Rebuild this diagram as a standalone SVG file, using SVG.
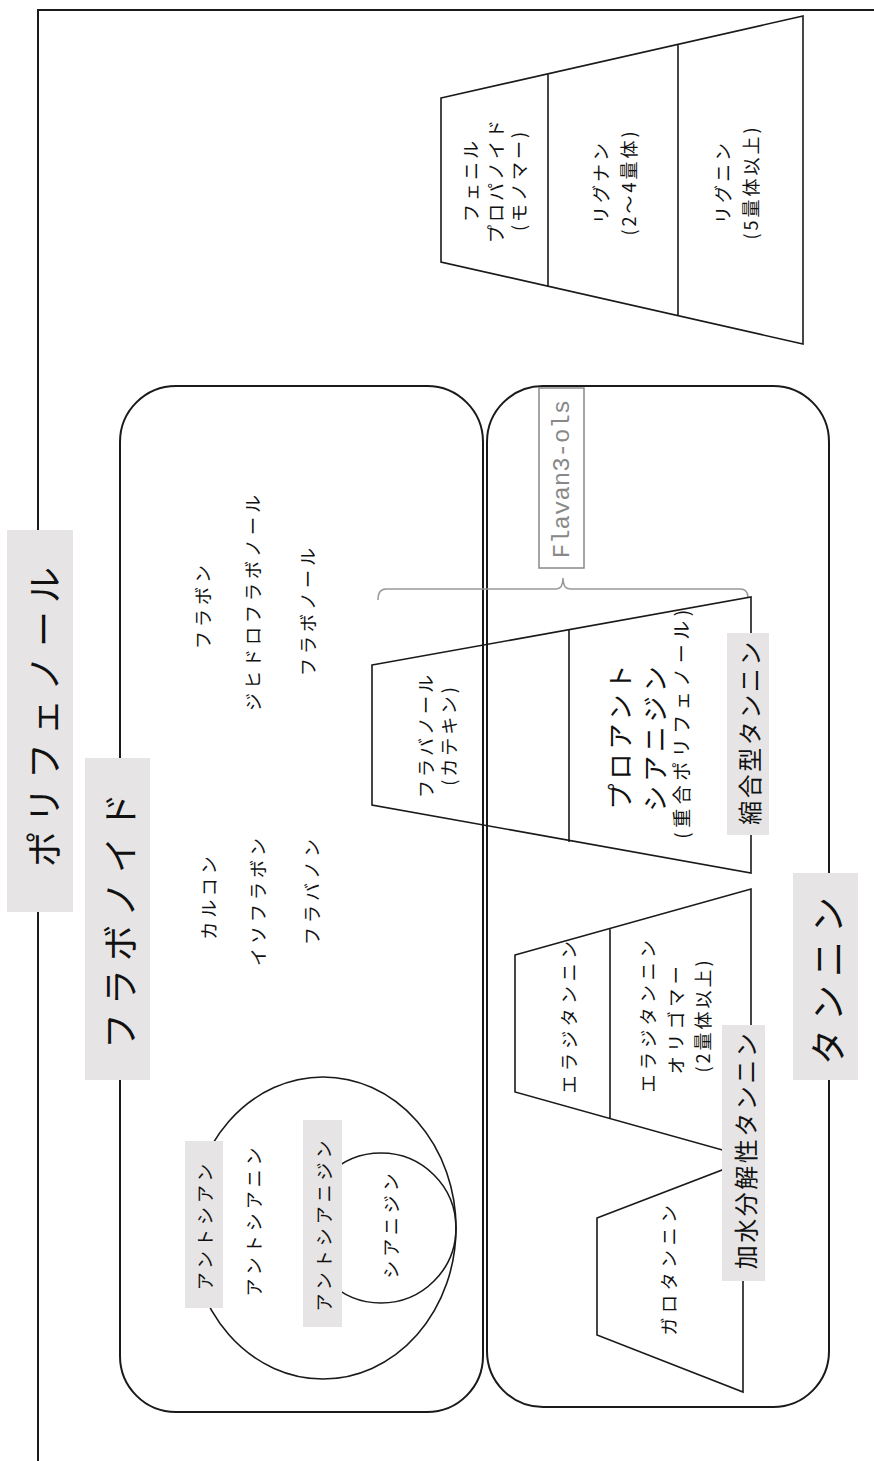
<svg xmlns="http://www.w3.org/2000/svg" width="874" height="1461" viewBox="0 0 874 1461">
<style>
.ln{fill:none;stroke:#1a1a1a;stroke-width:2}
.sh{fill:none;stroke:#1a1a1a;stroke-width:1.6}
.lb{fill:#e6e4e4;stroke:none}
.t{font-family:"Noto Sans CJK JP","Noto Sans",sans-serif;fill:#111;text-anchor:middle;dominant-baseline:central}
.s{font-size:18px;letter-spacing:4px}
.m{font-size:18px;letter-spacing:3px}
.big{font-size:36px;letter-spacing:8px}
.mid{font-size:24px;letter-spacing:2.5px}
.pa{font-size:26px;letter-spacing:4px}
.fl{font-family:"Liberation Mono",monospace;font-size:24px;fill:#888;text-anchor:middle;dominant-baseline:central}
</style>
<rect width="874" height="1461" fill="#fff"/>
<g id="frame">
<path class="ln" d="M38,1461 L38,10 L874,10"/>
</g>
<g id="flavonoid-box">
<rect class="ln" x="120" y="386" width="363" height="1026" rx="56" ry="56"/>
</g>
<g id="tannin-box">
<rect class="ln" x="487" y="386" width="342" height="1021" rx="56" ry="56"/>
</g>
<g id="phenylpropanoid-trapezoid">
<path class="sh" d="M441,98 L803,16 L803,344 L441,262 Z M548,73 L548,287 M678,44 L678,316"/>
<text class="t m" transform="rotate(-90 470 180)" x="470" y="180">フェニル</text>
<text class="t m" transform="rotate(-90 495 180)" x="495" y="180">プロパノイド</text>
<text class="t m" transform="rotate(-90 518 180)" x="518" y="180">(モノマー)</text>
<text class="t m" transform="rotate(-90 600 182)" x="600" y="182">リグナン</text>
<text class="t m" transform="rotate(-90 628 182)" x="628" y="182">(2～4量体)</text>
<text class="t m" transform="rotate(-90 722 182)" x="722" y="182">リグニン</text>
<text class="t m" transform="rotate(-90 750 182)" x="750" y="182">(5量体以上)</text>
</g>
<g id="flavonoid-list">
<text class="t s" transform="rotate(-90 202 605)" x="202" y="605">フラボン</text>
<text class="t s" transform="rotate(-90 252 601)" x="252" y="601">ジヒドロフラボノール</text>
<text class="t s" transform="rotate(-90 307 610)" x="307" y="610">フラボノール</text>
<text class="t s" transform="rotate(-90 208 896)" x="208" y="896">カルコン</text>
<text class="t s" transform="rotate(-90 257 900)" x="257" y="900">イソフラボン</text>
<text class="t s" transform="rotate(-90 311 890)" x="311" y="890">フラバノン</text>
</g>
<g id="anthocyanin-circles">
<ellipse class="sh" cx="323" cy="1228" rx="133" ry="151"/>
<circle class="sh" cx="381" cy="1228" r="75"/>
<rect class="lb" x="185" y="1141" width="38" height="167"/>
<text class="t s" transform="rotate(-90 204 1225)" x="204" y="1225">アントシアン</text>
<text class="t s" transform="rotate(-90 253 1220)" x="253" y="1220">アントシアニン</text>
<rect class="lb" x="303" y="1120" width="39" height="207"/>
<text class="t s" transform="rotate(-90 323 1224)" x="323" y="1224">アントシアニジン</text>
<text class="t s" transform="rotate(-90 390 1224)" x="390" y="1224">シアニジン</text>
</g>
<g id="flavan3ols">
<path fill="none" stroke="#999" stroke-width="1.5" d="M378,600 Q378,589 386,589 L556,589 Q563,589 563,578 Q563,589 570,589 L740,589 Q748,589 748,598"/>
<rect x="539" y="388" width="45" height="180" fill="#fff" stroke="#888" stroke-width="1.5"/>
<text class="fl" transform="rotate(-90 562 479)" x="562" y="479">Flavan3-ols</text>
</g>
<g id="flavanol-trapezoid">
<path class="sh" d="M372,665 L751,597 L751,873 L372,805 Z M569,629 L569,842"/>
<text class="t m" transform="rotate(-90 425 735)" x="425" y="735">フラバノール</text>
<text class="t m" transform="rotate(-90 448 735)" x="448" y="735">(カテキン)</text>
<text class="t pa" transform="rotate(-90 618 735)" x="618" y="735">プロアント</text>
<text class="t pa" transform="rotate(-90 653 737)" x="653" y="737">シアニジン</text>
<text class="t m" style="font-size:19px;letter-spacing:4.5px" transform="rotate(-90 680 722)" x="680" y="722">(重合ポリフェノール)</text>
</g>
<g id="condensed-tannin-label">
<rect class="lb" x="727" y="633" width="42" height="202"/>
<text class="t mid" transform="rotate(-90 748 732)" x="748" y="732">縮合型タンニン</text>
</g>
<g id="ellagitannin-trapezoid">
<path class="sh" d="M515,955 L751,889 L751,1158 L515,1092 Z M610,928 L610,1118"/>
<text class="t m" style="letter-spacing:4.5px" transform="rotate(-90 568 1015)" x="568" y="1015">エラジタンニン</text>
<text class="t m" style="letter-spacing:4.5px" transform="rotate(-90 647 1014)" x="647" y="1014">エラジタンニン</text>
<text class="t m" style="letter-spacing:4.5px" transform="rotate(-90 675 1018)" x="675" y="1018">オリゴマー</text>
<text class="t m" transform="rotate(-90 702 1015)" x="702" y="1015">(2量体以上)</text>
</g>
<g id="gallotannin-trapezoid">
<path class="sh" d="M597,1218 L743,1162 L743,1392 L597,1335 Z"/>
<text class="t m" style="letter-spacing:4.5px" transform="rotate(-90 668 1268)" x="668" y="1268">ガロタンニン</text>
</g>
<g id="hydrolyzable-tannin-label">
<rect class="lb" x="722" y="1025" width="43" height="256"/>
<text class="t mid" transform="rotate(-90 744 1150)" x="744" y="1150">加水分解性タンニン</text>
</g>
<g id="polyphenol-label">
<rect class="lb" x="7" y="530" width="66" height="382"/>
<text class="t big" transform="rotate(-90 42 713)" x="42" y="713">ポリフェノール</text>
</g>
<g id="flavonoid-label">
<rect class="lb" x="85" y="758" width="65" height="322"/>
<text class="t big" transform="rotate(-90 118 917)" x="118" y="917">フラボノイド</text>
</g>
<g id="tannin-label">
<rect class="lb" x="793" y="873" width="65" height="207"/>
<text class="t big" transform="rotate(-90 826 977)" x="826" y="977">タンニン</text>
</g>
</svg>
